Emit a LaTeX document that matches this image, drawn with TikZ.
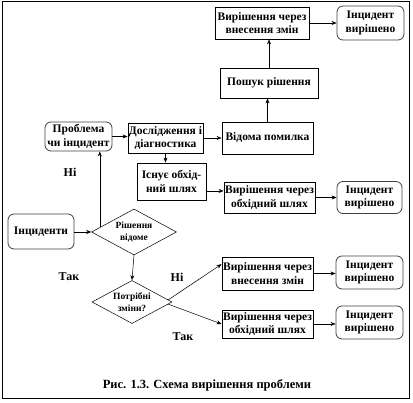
\documentclass[tikz,border=0pt]{standalone}
\usepackage{fontspec}
\setmainfont{Liberation Serif}
\usetikzlibrary{shapes.geometric,arrows.meta,calc}
\begin{document}
\begin{tikzpicture}[x=1pt,y=-1pt,
  txt/.style={font=\bfseries\fontsize{11.5}{13.5}\selectfont,align=center,inner sep=0pt},
  rbox/.style={txt,draw,line width=0.8pt,minimum width=#1},
  endbox/.style={txt,draw=black!75,line width=0.8pt,rounded corners=6pt,minimum width=#1},
  dmd/.style={draw,line width=0.5pt,diamond,inner sep=0pt},
  dtxt/.style={font=\bfseries\fontsize{9.5}{12.5}\selectfont,align=center,inner sep=0pt},
  lbl/.style={font=\bfseries\fontsize{12}{13}\selectfont,inner sep=0pt},
  arr/.style={line width=0.5pt,-{Stealth[length=5pt,width=4pt]}},
  ln/.style={line width=0.5pt}]
\useasboundingbox (0,0) rectangle (413,403);
\draw[line width=0.6pt] (2,1) rectangle (409,398);
% top row
\node[rbox=94pt,minimum height=32pt] (vz1) at (262,23) {Вирішення через\\внесення змін};
\node[endbox=67pt,minimum height=34pt] (e1) at (370.5,23) {Інцидент\\вирішено};
\node[rbox=98pt,minimum height=30pt] (ps) at (269,83) {Пошук рішення};
% second row
\node[endbox=67pt,minimum height=29pt] (p1) at (78.5,136.5) {Проблема\\чи інцидент};
\node[rbox=75pt,minimum height=30pt] (dd) at (165.5,138) {Дослідження і\\діагностика};
\node[rbox=91pt,minimum height=32pt] (vp) at (267.5,138) {Відома помилка};
% third row
\node[rbox=69pt,minimum height=37pt] (ib) at (171.5,181.5) {Існує обхід-\\ний шлях};
\node[rbox=91pt,minimum height=31pt] (vo1) at (269.5,197.5) {Вирішення через\\обхідний шлях};
\node[endbox=65pt,minimum height=32pt] (e2) at (369.5,197.5) {Інцидент\\вирішено};
% incidents and decisions
\node[endbox=66pt,minimum height=35pt] (inc) at (41,231.5) {Інциденти};
\node[dmd,minimum width=85pt,minimum height=46pt] (d1) at (134,232) {};
\node[dtxt] (d1t) at (d1) {Рішення\\відоме};
\node[dmd,minimum width=80pt,minimum height=43pt] (d2) at (132,302) {};
\node[dtxt] (d2t) at (d2) {Потрібні\\зміни?};
% lower rows
\node[rbox=91pt,minimum height=33pt] (vz2) at (267.5,273.5) {Вирішення через\\внесення змін};
\node[endbox=67pt,minimum height=33pt] (e3) at (369.5,272.5) {Інцидент\\вирішено};
\node[rbox=91pt,minimum height=28pt] (vo2) at (267.5,324) {Вирішення через\\обхідний шлях};
\node[endbox=67pt,minimum height=33pt] (e4) at (369.5,322.5) {Інцидент\\вирішено};
% labels
\node[lbl] (n1) at (70,172) {Ні};
\node[lbl] (t1) at (69,277) {Так};
\node[lbl] (n2) at (177,277) {Ні};
\node[lbl] (t2) at (183,337) {Так};
\node[font=\bfseries\fontsize{12.5}{14}\selectfont,inner sep=0pt] (cap) at (207,385) {Рис. 1.3. Схема вирішення проблеми};
% connectors
\draw[arr] (vz1.east) -- (e1.west);
\draw[arr] (ps.north) -- (ps.north |- vz1.south);
\draw[arr] (vp.north) -- (vp.north |- ps.south);
\draw[arr] (p1.east) -- (p1.east -| dd.west);
\draw[arr] (dd.east) -- (dd.east -| vp.west);
\draw[arr] (dd.south) -- (dd.south |- ib.north);
\coordinate (ibo) at ($(ib.south east)!0.25!(ib.north east)$);
\draw[arr] (ibo) -- (ibo -| vo1.west);
\draw[arr] (vo1.east) -- (e2.west);
\draw[arr] (inc.east |- d1.west) -- (d1.west);
\coordinate (d1up) at ($(d1.west)!0.2!(d1.north)$);
\draw[arr] (d1up) -- (d1up |- p1.south);
\draw[arr] (d1.south) -- (d2.north);
\coordinate (d2a) at ($(d2.east)!0.1!(d2.north)$);
\coordinate (d2b) at ($(d2.east)!0.1!(d2.south)$);
\coordinate (vz2in) at ($(vz2.west)!0.55!(vz2.north west)$);
\draw[arr] (d2a) -- (vz2in);
\draw[arr] (d2b) -- (vo2.west);
\draw[arr] (vz2.east) -- (vz2.east -| e3.west);
\draw[arr] (vo2.east) -- (vo2.east -| e4.west);
\end{tikzpicture}
\end{document}
